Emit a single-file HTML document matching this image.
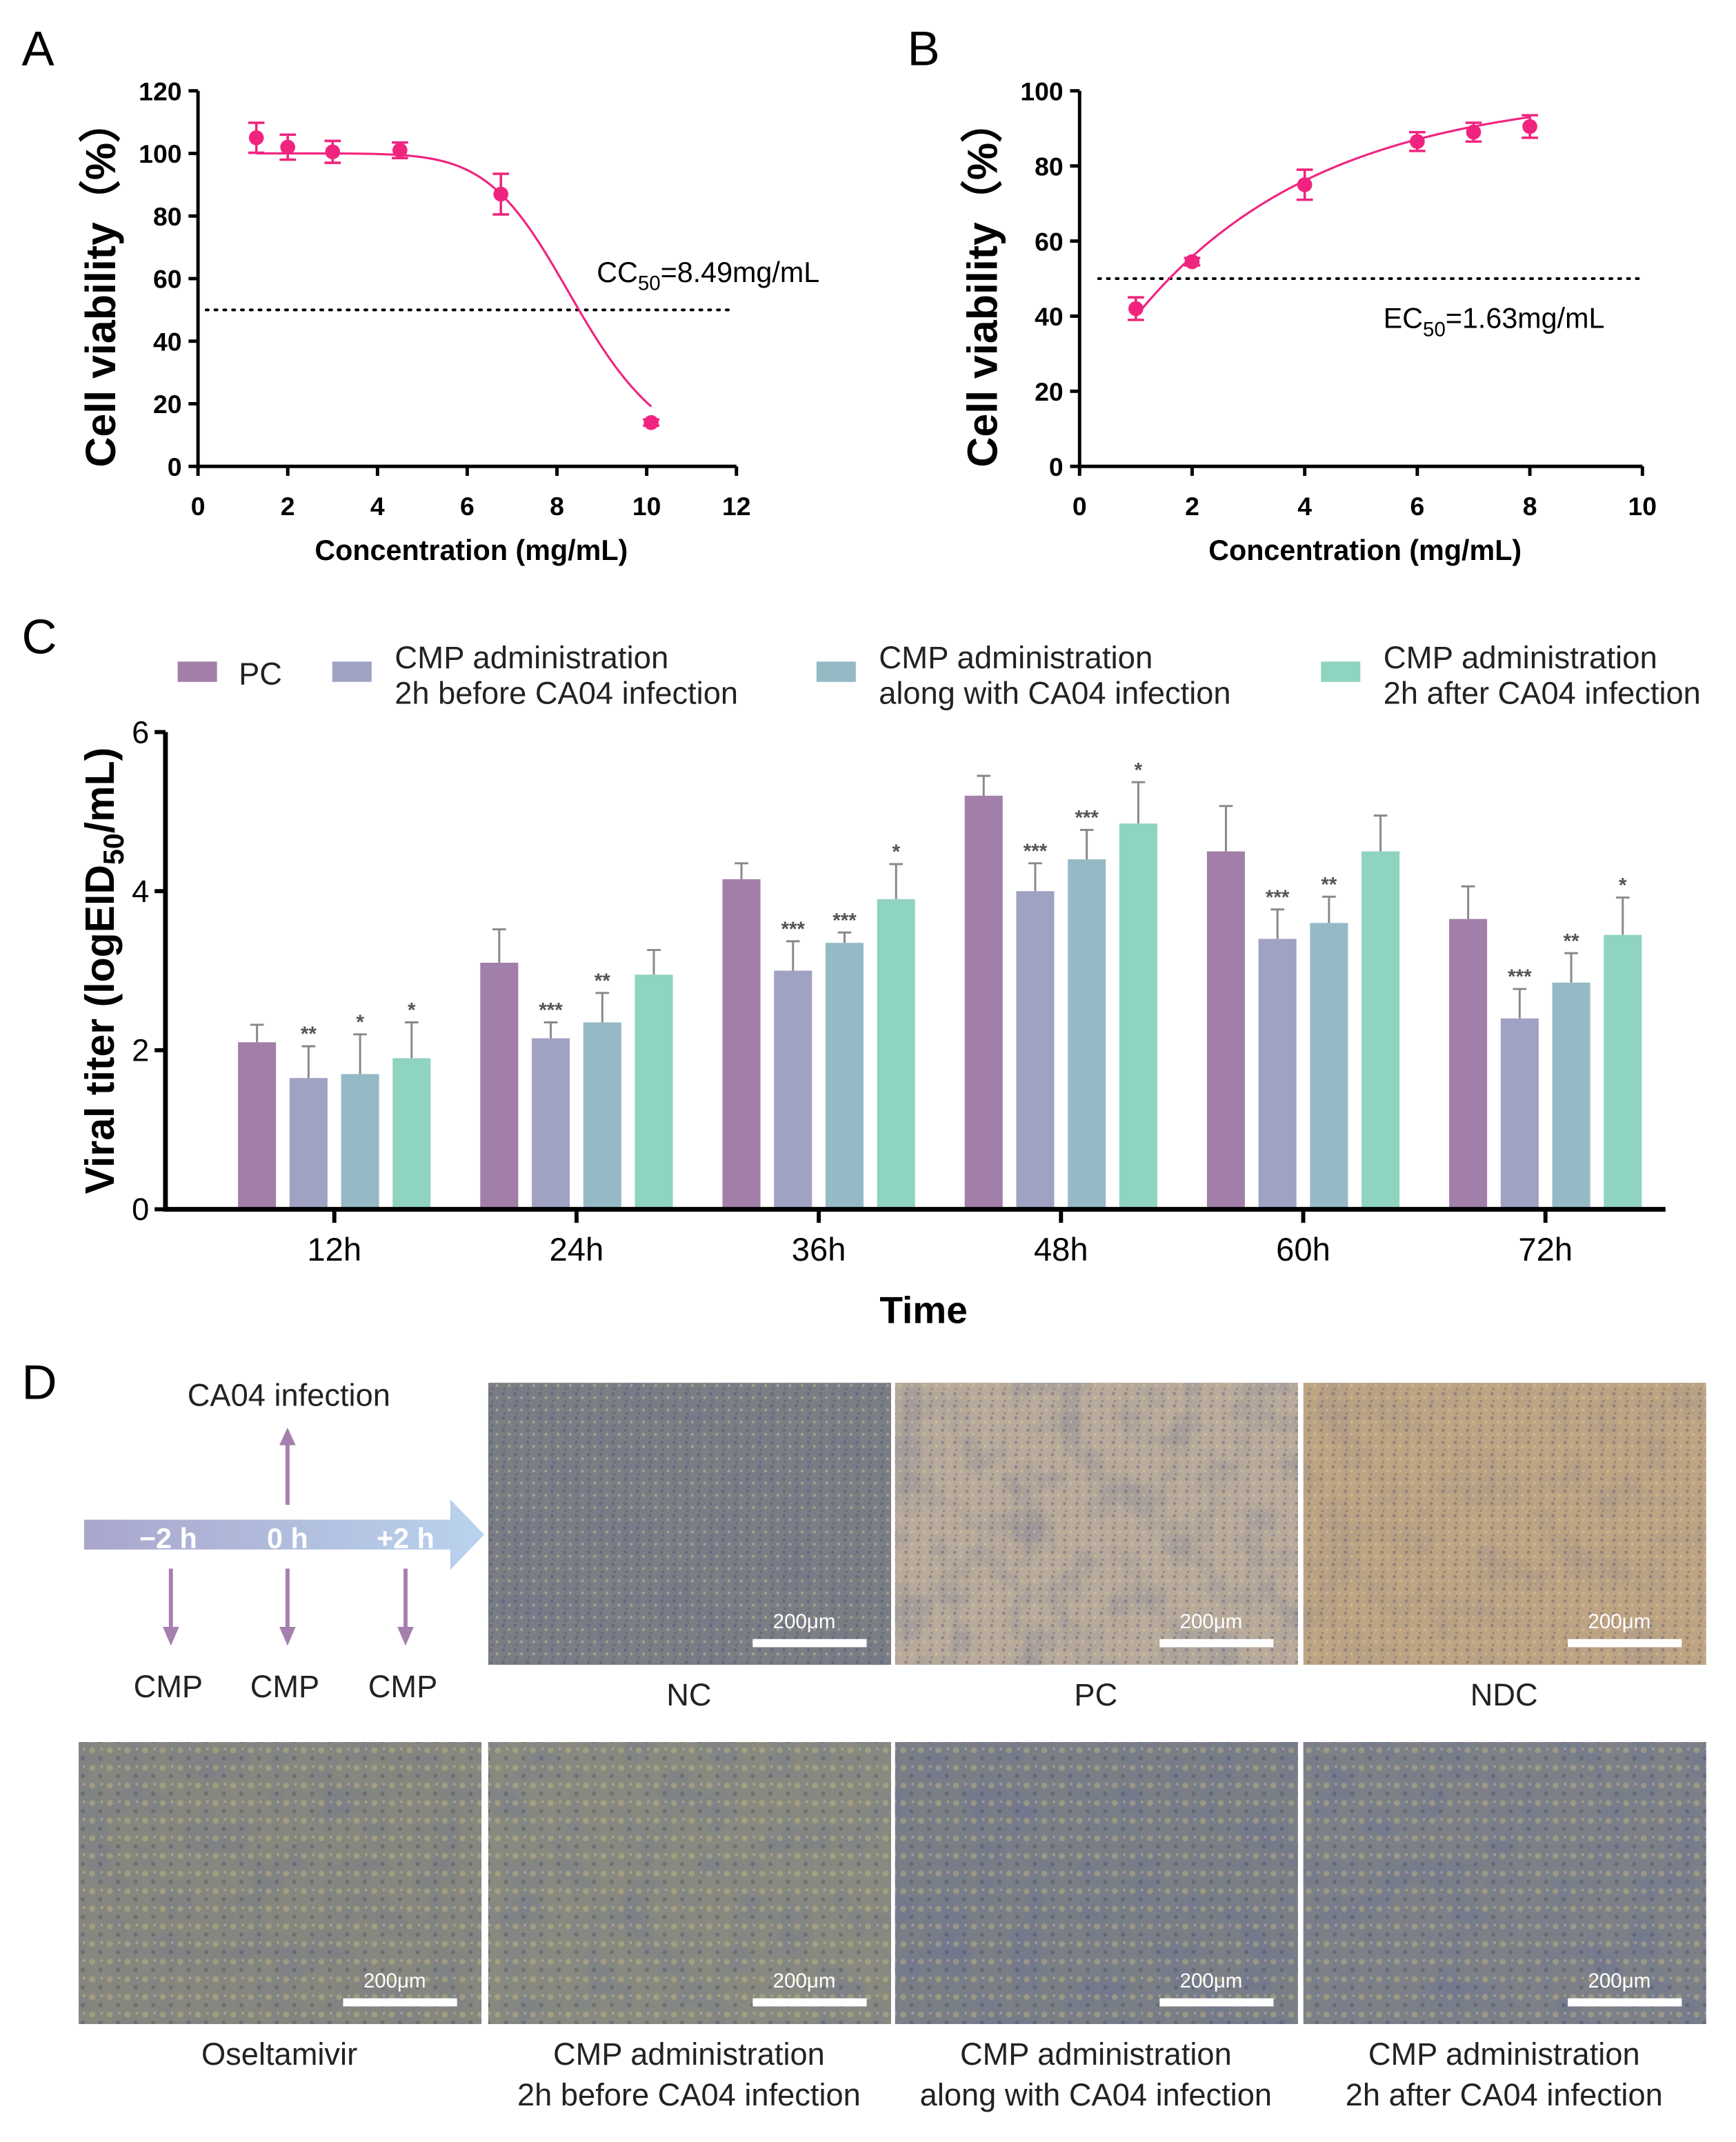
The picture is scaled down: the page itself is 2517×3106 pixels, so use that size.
<!DOCTYPE html>
<html><head><meta charset="utf-8">
<style>
html,body{margin:0;padding:0;background:#fff;}
svg{display:block;font-family:"Liberation Sans",Arial,sans-serif;}
</style></head>
<body>
<svg id="fig" width="2517" height="3106" viewBox="0 0 1280 1580" preserveAspectRatio="none" xmlns="http://www.w3.org/2000/svg">
<defs>
<pattern id="cells" width="9" height="9" patternUnits="userSpaceOnUse">
<circle cx="2" cy="2" r="1.3" fill="#3d4460" opacity="0.3"/>
<circle cx="6.5" cy="5" r="1.1" fill="#e0d49a" opacity="0.4"/>
<circle cx="3" cy="7.5" r="0.9" fill="#2f3550" opacity="0.25"/>
</pattern>
<pattern id="cells2" width="13" height="13" patternUnits="userSpaceOnUse">
<circle cx="3" cy="4" r="2.2" fill="#d9c680" opacity="0.35"/>
<circle cx="9" cy="10" r="1.6" fill="#343b58" opacity="0.3"/>
<circle cx="10" cy="3" r="1" fill="#f0e6b0" opacity="0.3"/>
</pattern>
<filter id="blotch" x="0" y="0" width="100%" height="100%">
<feTurbulence type="fractalNoise" baseFrequency="0.035" numOctaves="2" seed="3"/>
<feColorMatrix type="matrix" values="0 0 0 0 0.15  0 0 0 0 0.17  0 0 0 0 0.3  -2.2 0 0 0 1.2"/>
</filter>
<linearGradient id="arrowgrad" x1="0" x2="1" y1="0" y2="0">
<stop offset="0" stop-color="#a9a6cc"/><stop offset="1" stop-color="#b9d3ee"/>
</linearGradient>
</defs>
<g id="panelA"></g>
<g id="panelB"></g>
<g id="panelC"></g>
<g id="panelD"></g>
</svg>
<script>
// ---- Panel A data
const aConc = [1.3, 2, 3, 4.5, 6.75, 10.1];
const aViab = [105, 102, 100.5, 101, 87, 14];
const aErr = [4.8, 4, 3.5, 2.5, 6.5, 1];
const aXTicks = [0, 2, 4, 6, 8, 10, 12];
const aYTicks = [0, 20, 40, 60, 80, 100, 120];
const aCC50 = 8.49;
const aHill = 8.3;
// ---- Panel B data
const bConc = [1, 2, 4, 6, 7, 8];
const bViab = [42, 54.5, 75, 86.5, 89, 90.5];
const bErr = [3, 1, 4, 2.5, 2.5, 3];
const bXTicks = [0, 2, 4, 6, 8, 10];
const bYTicks = [0, 20, 40, 60, 80, 100];
const bFitTop = 100;
const bFitAmp = 81.6;
const bFitRate = 0.307;
// ---- Panel C data
const cTimes = ["12h", "24h", "36h", "48h", "60h", "72h"];
const cSeriesNames = ["PC", "CMP administration|2h before CA04 infection", "CMP administration|along with CA04 infection", "CMP administration|2h after CA04 infection"];
const cPC = [2.1, 3.1, 4.15, 5.2, 4.5, 3.65];
const cBefore = [1.65, 2.15, 3.0, 4.0, 3.4, 2.4];
const cAlong = [1.7, 2.35, 3.35, 4.4, 3.6, 2.85];
const cAfter = [1.9, 2.95, 3.9, 4.85, 4.5, 3.45];
const cPCErr = [0.22, 0.42, 0.2, 0.25, 0.57, 0.41];
const cBeforeErr = [0.4, 0.2, 0.37, 0.35, 0.37, 0.37];
const cAlongErr = [0.5, 0.37, 0.13, 0.37, 0.33, 0.37];
const cAfterErr = [0.45, 0.31, 0.44, 0.52, 0.45, 0.47];
const cBeforeSig = ["**", "***", "***", "***", "***", "***"];
const cAlongSig = ["*", "**", "***", "***", "**", "**"];
const cAfterSig = ["*", "", "*", "*", "", "*"];
const cYTicks = [0, 2, 4, 6];

const NS = "http://www.w3.org/2000/svg";
function mk(parent, tag, attrs, text) {
  const e = document.createElementNS(NS, tag);
  for (const k in attrs) e.setAttribute(k, attrs[k]);
  if (text !== undefined) e.textContent = text;
  parent.appendChild(e);
  return e;
}
const PINK = "#f0247f";

function scatterPanel(g, letter, lx, cfg) {
  const L = mk(g, "text", {x: lx, y: 48, "font-size": 36}, letter);
  
  
  const X = v => cfg.x0 + (v - cfg.xmin) / (cfg.xmax - cfg.xmin) * (cfg.x1 - cfg.x0);
  const Y = v => cfg.y0 - v / cfg.ymax * (cfg.y0 - cfg.y1);
  const ax = mk(g, "path", {d: `M${cfg.x0} ${cfg.y1} V${cfg.y0} H${cfg.x1}`, stroke: "#000", "stroke-width": 2.5, fill: "none"});
  
  
  cfg.yTicks.forEach(t => {
    mk(g, "line", {x1: cfg.x0 - 7, x2: cfg.x0, y1: Y(t), y2: Y(t), stroke: "#000", "stroke-width": 2.5});
    const tl = mk(g, "text", {x: cfg.x0 - 12, y: Y(t) + 7, "font-size": 19, "font-weight": "bold", "text-anchor": "end"}, t);
    
    
  });
  cfg.xTicks.forEach(t => {
    mk(g, "line", {x1: X(t), x2: X(t), y1: cfg.y0, y2: cfg.y0 + 7, stroke: "#000", "stroke-width": 2.5});
    const tl = mk(g, "text", {x: X(t), y: cfg.y0 + 36, "font-size": 19, "font-weight": "bold", "text-anchor": "middle"}, t);
    
    
  });
  const yt = mk(g, "text", {transform: `translate(${cfg.x0 - 61},${(cfg.y0 + cfg.y1) / 2 + 4}) rotate(-90)`, "font-size": 31, "font-weight": "bold", "text-anchor": "middle"}, "Cell viability（%）");
  
  
  const xt = mk(g, "text", {x: (cfg.x0 + cfg.x1) / 2 + 3, y: cfg.y0 + 69, "font-size": 21, "font-weight": "bold", "text-anchor": "middle"}, "Concentration (mg/mL)");
  
  
  const dl = mk(g, "line", {x1: cfg.dx0, x2: cfg.dx1, y1: Y(50), y2: Y(50), stroke: "#000", "stroke-width": 2, "stroke-dasharray": "1.5 5", "stroke-linecap": "round"});
  
  
  let d = "";
  const xs = cfg.xs, xe = cfg.xe;
  for (let i = 0; i <= 100; i++) {
    const x = xs + (xe - xs) * i / 100;
    d += (i ? "L" : "M") + X(x).toFixed(2) + " " + Y(cfg.f(x)).toFixed(2);
  }
  const cv = mk(g, "path", {d, stroke: PINK, "stroke-width": 1.6, fill: "none"});
  
  
  cfg.cx.forEach((c, i) => {
    const v = cfg.cy[i], e = cfg.ce[i];
    const px = X(c);
    mk(g, "path", {d: `M${px} ${Y(v - e)} V${Y(v + e)} M${px - 6} ${Y(v - e)} H${px + 6} M${px - 6} ${Y(v + e)} H${px + 6}`, stroke: PINK, "stroke-width": 1.8, fill: "none"});
    const pt = mk(g, "circle", {cx: px, cy: Y(v), r: 5.5, fill: PINK});
    
    
  });
  const lab = mk(g, "text", {x: cfg.lx, y: cfg.ly, "font-size": 21});
  
  
  lab.innerHTML = cfg.lab[0] + '<tspan font-size="15" dy="6">50</tspan><tspan dy="-6">' + cfg.lab[1] + '</tspan>';
}

scatterPanel(document.getElementById("panelA"), "A", 16, {
  x0: 146, x1: 543, y0: 344, y1: 67, xmin: 0, xmax: 12, ymax: 120,
  xTicks: aXTicks, yTicks: aYTicks, dx0: 152, dx1: 540,
  xs: aConc[0], xe: aConc[aConc.length - 1],
  f: x => 100 / (1 + Math.pow(x / aCC50, aHill)),
  cx: aConc, cy: aViab, ce: aErr, lx: 440, ly: 208, lab: ["CC", "=8.49mg/mL"]
});
scatterPanel(document.getElementById("panelB"), "B", 669, {
  x0: 796, x1: 1211, y0: 344, y1: 67, xmin: 0, xmax: 10, ymax: 100,
  xTicks: bXTicks, yTicks: bYTicks, dx0: 810, dx1: 1208,
  xs: bConc[0], xe: bConc[bConc.length - 1],
  f: x => bFitTop - bFitAmp * Math.exp(-bFitRate * x),
  cx: bConc, cy: bViab, ce: bErr, lx: 1020, ly: 242, lab: ["EC", "=1.63mg/mL"]
});

// ---- Panel C
(function () {
  const g = document.getElementById("panelC");
  const L = mk(g, "text", {x: 16, y: 482, "font-size": 36}, "C");
  
  
  const x0 = 122, x1 = 1228, y0 = 892, y1 = 540, ymax = 6;
  const Y = v => y0 - v / ymax * (y0 - y1);
  const gx0 = 246.5, gstep = 178.6;
  const GX = i => gx0 + i * gstep;
  const colors = ["#a27fa8", "#a0a2c4", "#95bac6", "#8fd3c1"];
  const series = [cPC, cBefore, cAlong, cAfter];
  const errs = [cPCErr, cBeforeErr, cAlongErr, cAfterErr];
  const sigs = [null, cBeforeSig, cAlongSig, cAfterSig];
  const bw = 28, bstep = 38;
  const legX = [131, 245, 602, 974];
  cSeriesNames.forEach((n, k) => {
    const lg = mk(g, "g", {});
    
    
    mk(lg, "rect", {x: legX[k], y: 488, width: 29, height: 15, fill: colors[k]});
    const parts = n.split("|");
    if (parts.length === 1) mk(lg, "text", {x: legX[k] + 45, y: 505, "font-size": 23, fill: "#222"}, parts[0]);
    else {
      mk(lg, "text", {x: legX[k] + 46, y: 493, "font-size": 23, fill: "#222", textLength: parts[0] === "CMP administration" ? 202 : 0, lengthAdjust: "spacingAndGlyphs"}, parts[0]);
      mk(lg, "text", {x: legX[k] + 46, y: 519, "font-size": 23, fill: "#222"}, parts[1]);
    }
  });
  cTimes.forEach((t, i) => {
    series.forEach((s, k) => {
      const bx = GX(i) - 2 * bstep + 5 + k * bstep;
      const v = s[i], e = errs[k][i];
      mk(g, "path", {d: `M${bx + bw / 2} ${Y(v)} V${Y(v + e)} M${bx + bw / 2 - 5} ${Y(v + e)} H${bx + bw / 2 + 5}`, stroke: "#888", "stroke-width": 1.5, fill: "none"});
      const r = mk(g, "rect", {x: bx, y: Y(v), width: bw, height: Y(0) - Y(v), fill: colors[k]});
      
      
      if (sigs[k] && sigs[k][i]) {
        const st = mk(g, "text", {x: bx + bw / 2, y: Y(v + e) - 4, "font-size": 15, "font-weight": "bold", "text-anchor": "middle", fill: "#555"}, sigs[k][i]);
        
        
      }
    });
    mk(g, "line", {x1: GX(i), x2: GX(i), y1: y0, y2: y0 + 10, stroke: "#000", "stroke-width": 3});
    const tl = mk(g, "text", {x: GX(i), y: y0 + 38, "font-size": 24, "text-anchor": "middle"}, t);
    
    
  });
  const ax = mk(g, "path", {d: `M${x0} ${y1} V${y0} H${x1}`, stroke: "#000", "stroke-width": 3.5, fill: "none"});
  
  
  cYTicks.forEach(t => {
    mk(g, "line", {x1: x0 - 8, x2: x0, y1: Y(t), y2: Y(t), stroke: "#000", "stroke-width": 3});
    const tl = mk(g, "text", {x: x0 - 12, y: Y(t) + 8, "font-size": 23, "text-anchor": "end"}, t);
    
    
  });
  const yt = mk(g, "text", {transform: `translate(84,${(y0 + y1) / 2}) rotate(-90)`, "font-size": 30, "font-weight": "bold", "text-anchor": "middle"});
  yt.innerHTML = 'Viral titer (logEID<tspan font-size="21" dy="7">50</tspan><tspan dy="-7">/mL)</tspan>';
  
  
  const xt = mk(g, "text", {x: 681, y: 976, "font-size": 28, "font-weight": "bold", "text-anchor": "middle"}, "Time");
  
  
})();

// ---- Panel D
(function () {
  const g = document.getElementById("panelD");
  const L = mk(g, "text", {x: 16, y: 1032, "font-size": 36}, "D");
  
  
  const tl = mk(g, "g", {});
  
  
  mk(tl, "path", {d: "M62 1121 H332 V1106 L357 1132 L332 1158 V1143 H62 Z", fill: "url(#arrowgrad)"});
  mk(tl, "text", {x: 124, y: 1142, "font-size": 21, "font-weight": "bold", fill: "#fff", "text-anchor": "middle"}, "−2 h");
  mk(tl, "text", {x: 212, y: 1142, "font-size": 21, "font-weight": "bold", fill: "#fff", "text-anchor": "middle"}, "0 h");
  mk(tl, "text", {x: 299, y: 1142, "font-size": 21, "font-weight": "bold", fill: "#fff", "text-anchor": "middle"}, "+2 h");
  const AC = "#a57fae";
  mk(tl, "path", {d: "M212 1110 V1064", stroke: AC, "stroke-width": 3});
  mk(tl, "path", {d: "M206 1066 L212 1053 L218 1066 Z", fill: AC});
  [126, 212, 299].forEach(x => {
    mk(tl, "path", {d: `M${x} 1157 V1202`, stroke: AC, "stroke-width": 3});
    mk(tl, "path", {d: `M${x - 6} 1200 L${x} 1214 L${x + 6} 1200 Z`, fill: AC});
    mk(tl, "text", {x: x - 2, y: 1252, "font-size": 23, "text-anchor": "middle", fill: "#222"}, "CMP");
  });
  mk(tl, "text", {x: 213, y: 1037, "font-size": 23, "text-anchor": "middle", fill: "#222"}, "CA04 infection");
  const imgs = [
    {x: 360, y: 1020, c: "#7b7e84", p: "cells", b: 0.35, lab: ["NC"], n: "nc"},
    {x: 660, y: 1020, c: "#b9ab9b", p: "cells", b: 0.4, lab: ["PC"], n: "pc"},
    {x: 961, y: 1020, c: "#bea483", p: "cells", b: 0.2, lab: ["NDC"], n: "ndc"},
    {x: 58, y: 1285, c: "#86877f", p: "cells2", b: 0.4, lab: ["Oseltamivir"], n: "oseltamivir"},
    {x: 360, y: 1285, c: "#888a80", p: "cells2", b: 0.45, lab: ["CMP administration", "2h before CA04 infection"], n: "before"},
    {x: 660, y: 1285, c: "#7a7f86", p: "cells2", b: 0.7, lab: ["CMP administration", "along with CA04 infection"], n: "along"},
    {x: 961, y: 1285, c: "#7d8187", p: "cells2", b: 0.65, lab: ["CMP administration", "2h after CA04 infection"], n: "after"}
  ];
  imgs.forEach(m => {
    const ig = mk(g, "g", {});
    
    
    mk(ig, "rect", {x: m.x, y: m.y, width: 297, height: 208, fill: m.c});
    mk(ig, "rect", {x: m.x, y: m.y, width: 297, height: 208, fill: "#000", filter: "url(#blotch)", opacity: m.b});
    mk(ig, "rect", {x: m.x, y: m.y, width: 297, height: 208, fill: "url(#" + m.p + ")"});
    mk(ig, "rect", {x: m.x + 195, y: m.y + 189, width: 84, height: 6, fill: "#fff"});
    mk(ig, "text", {x: m.x + 233, y: m.y + 181, "font-size": 15, fill: "#fff", "text-anchor": "middle"}, "200μm");
    m.lab.forEach((t, j) => {
      mk(g, "text", {x: m.x + 148, y: m.y + 238 + j * 30, "font-size": 23, "text-anchor": "middle", fill: "#222"}, t);
    });
  });
})();
</script>
</body></html>
